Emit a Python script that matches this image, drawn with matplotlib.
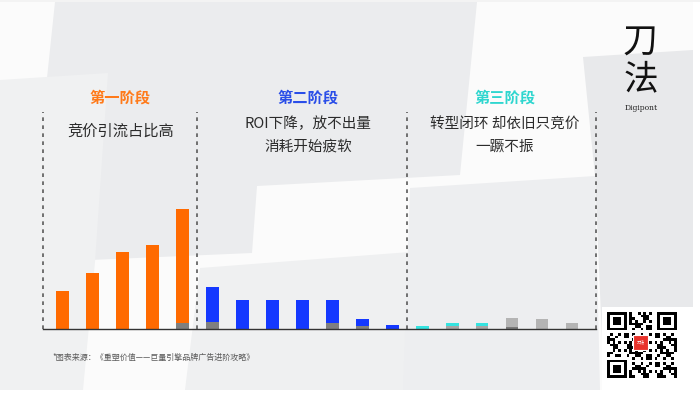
import matplotlib
matplotlib.use("Agg")
import matplotlib.pyplot as plt
import numpy as np
from matplotlib.patches import Polygon, Rectangle

plt.rcParams['font.family'] = ['Noto Sans CJK SC', 'DejaVu Sans']

# ---------------- data ----------------
stages = ["第一阶段", "第二阶段", "第三阶段"]
stage_desc = ["竞价引流占比高", "ROI下降，放不出量\n消耗开始疲软", "转型闭环 却依旧只竞价\n一蹶不振"]
stage_colors = ["#ff7a1a", "#2a4ee8", "#2fd6cf"]

# bottom (gray) segment and top (coloured) segment of each stacked bar
base_values = [0, 0, 0, 0, 6,
               7, 0, 0, 0, 6, 3, 0,
               0, 3, 3, 2, 0, 0]
top_values = [38, 56, 77, 84, 114,
              35, 29, 29, 29, 23, 7, 4,
              3, 3, 3, 9, 10, 6]
top_colors = ["#ff6a00"] * 5 + ["#1438ff"] * 7 + ["#35e3e0"] * 3 + ["#b4b4b4"] * 3
base_colors = ["#7f7f7f"] * 12 + ["#a6a6a6"] * 3 + ["#7a7a7a"] * 3

source_text = "*图表来源：《重塑价值——巨量引擎品牌广告进阶攻略》"

W, H = 700, 394
fig = plt.figure(figsize=(7, 3.94), dpi=100)
fig.patch.set_facecolor("white")


def P(x, y):
    return (x / W, 1 - y / H)


def poly(pts, color, z=-10):
    fig.patches.append(Polygon([P(*p) for p in pts], closed=True, transform=fig.transFigure,
                               facecolor=color, edgecolor="none", zorder=z))


# ---------------- background collage ----------------
poly([(0, 2), (693, 2), (693, 390), (0, 390)], "#fbfbfb")
poly([(55, 2), (477, 2), (460, 175), (257, 186), (252, 253), (90, 260), (47, 260), (47, 78)], "#ebecee")
poly([(0, 80), (108, 73), (95, 262), (83, 390), (0, 390)], "#f0f1f2")
poly([(200, 268), (410, 252), (405, 390), (185, 390)], "#eff0f1")
poly([(410, 188), (595, 176), (600, 390), (403, 390)], "#edeef0")
poly([(583, 57), (693, 50), (693, 360), (603, 362), (595, 176)], "#e8e9eb")
poly([(0, 0), (700, 0), (700, 2), (0, 2)], "#f3f3f3")

# ---------------- chart axes ----------------
x_left, x_right = 43, 600
y_top, y_base = 112, 329
ax = fig.add_axes([x_left / W, 1 - y_base / H, (x_right - x_left) / W, (y_base - y_top) / H])
ax.set_facecolor("none")
ax.patch.set_alpha(0)
n = len(top_values)
xs = np.arange(n)
ax.bar(xs, base_values, width=0.42, color=base_colors, zorder=3)
ax.bar(xs, top_values, width=0.42, bottom=base_values, color=top_colors, zorder=3)
ax.set_xlim(-0.65, 17.93)
ax.set_ylim(0, y_base - y_top)
for s in ax.spines.values():
    s.set_visible(False)
ax.set_xticks([])
ax.set_yticks([])
ax.plot([-0.65, 17.8], [0, 0], color="#333333", lw=1.0, zorder=4, clip_on=False)
for xd in [-0.65, 4.5, 11.48, 17.8]:
    ax.plot([xd, xd], [0, y_base - y_top], color="#5a5a5a", lw=1.2,
            ls=(0, (2.2, 2.6)), zorder=2, clip_on=False)

# ---------------- texts ----------------
title_pos = [(120, 98), (308, 98), (505, 98)]
for (x, y), t, c in zip(title_pos, stages, stage_colors):
    fig.text(*P(x, y), t, color=c, fontsize=11, fontweight="bold", ha="center", va="center")

fig.text(*P(121, 131), stage_desc[0], color="#2b2b2b", fontsize=11, fontweight="medium",
         ha="center", va="center")
for (x, y0), desc in zip([(308, 124), (505, 124)], stage_desc[1:]):
    for k, line in enumerate(desc.split("\n")):
        fig.text(*P(x, y0 + 23 * k), line, color="#2b2b2b", fontsize=10.5, ha="center", va="center")

fig.text(*P(52, 357), source_text, color="#5a5a5a", fontsize=5.8, ha="left", va="center")

# logo
fig.text(*P(640, 43), "刀", color="#111111", fontsize=25, fontweight="medium", ha="center", va="center")
fig.text(*P(641, 80), "法", color="#111111", fontsize=25, fontweight="medium", ha="center", va="center")
fig.text(*P(641, 108), "Digipont", color="#222222", fontsize=5.5, ha="center", va="center",
         family="DejaVu Serif")

# ---------------- QR-like badge ----------------
fig.patches.append(Rectangle(P(602, 390), 91 / W, 83 / H, transform=fig.transFigure,
                             facecolor="white", edgecolor="none", zorder=-1))
N = 25
i, j = np.meshgrid(np.arange(N), np.arange(N), indexing="ij")
grid = (((i * 31 + j * 17 + i * j * 7) % 11) < 5).astype(float)
for (r, c) in [(0, 0), (0, N - 7), (N - 7, 0)]:
    grid[max(r - 1, 0):r + 8, max(c - 1, 0):c + 8] = 0
    grid[r:r + 7, c:c + 7] = 1
    grid[r + 1:r + 6, c + 1:c + 6] = 0
    grid[r + 2:r + 5, c + 2:c + 5] = 1
qax = fig.add_axes([607 / W, 1 - 378 / H, 70 / W, 66 / H])
qax.imshow(grid, cmap="Greys", interpolation="nearest", aspect="auto", vmin=0, vmax=1)
qax.axis("off")
fig.patches.append(Rectangle(P(633, 350), 15 / W, 15 / H, transform=fig.transFigure,
                             facecolor="#e8322b", edgecolor="white", lw=0.8, zorder=5))
fig.text(*P(640.5, 342.5), "刀法", color="white", fontsize=3, ha="center", va="center", zorder=6)

fig.savefig("out.png", dpi=100)
